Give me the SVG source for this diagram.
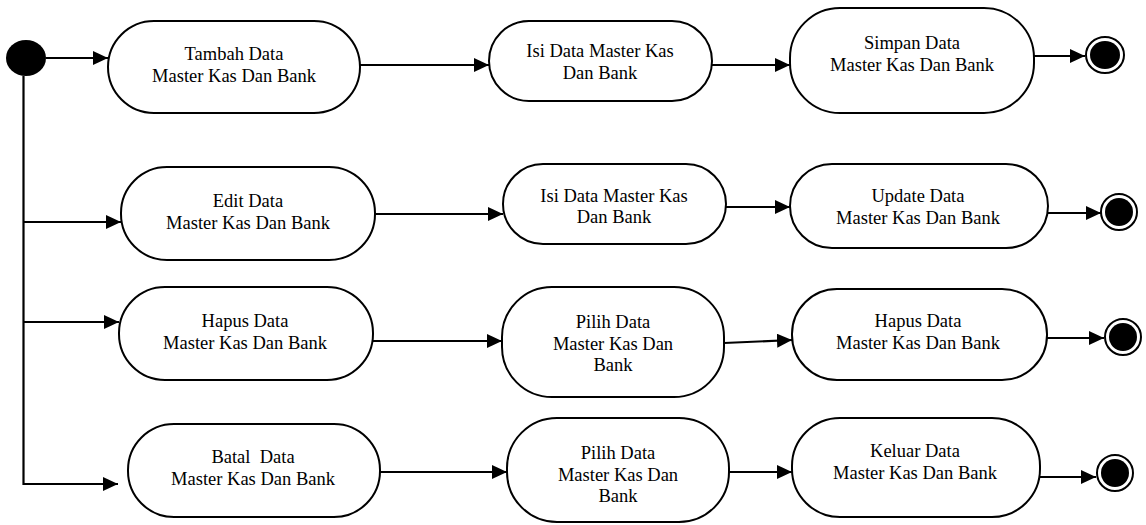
<svg xmlns="http://www.w3.org/2000/svg" width="1146" height="525" viewBox="0 0 1146 525">
<style>
.node rect{fill:#fff;stroke:#000;stroke-width:2}
.node text{font-size:18.5px;fill:#000;text-anchor:middle}
.conn path{fill:none;stroke:#000;stroke-width:2.2}
.end .o{fill:#fff;stroke:#000;stroke-width:2}
.end .i{fill:#000}
</style>
<defs>
<marker id="arr" markerUnits="userSpaceOnUse" markerWidth="15" markerHeight="14" refX="15" refY="7" orient="auto">
<path d="M0,0 L15,7 L0,14 z" fill="#000"/>
</marker>
</defs>
<g id="connectors" class="conn">
<path d="M46,58 H108" marker-end="url(#arr)"/>
<path d="M23.5,76 V484 H118" marker-end="url(#arr)"/>
<path d="M23.5,222 H121" marker-end="url(#arr)"/>
<path d="M23.5,322 H119" marker-end="url(#arr)"/>
<path d="M360,65 H489" marker-end="url(#arr)"/>
<path d="M712,65 H790" marker-end="url(#arr)"/>
<path d="M1034,56 H1085" marker-end="url(#arr)"/>
<path d="M375,214 H503" marker-end="url(#arr)"/>
<path d="M726,207 H790" marker-end="url(#arr)"/>
<path d="M1048,213 H1101" marker-end="url(#arr)"/>
<path d="M373,341 H502" marker-end="url(#arr)"/>
<path d="M724,343 L792,340" marker-end="url(#arr)"/>
<path d="M1047,338 H1104" marker-end="url(#arr)"/>
<path d="M380,472 H507" marker-end="url(#arr)"/>
<path d="M729,472 H792" marker-end="url(#arr)"/>
<path d="M1040,477 H1096" marker-end="url(#arr)"/>
</g>
<g id="start"><ellipse cx="26" cy="58" rx="20" ry="18" fill="#000"/></g>
<g font-family="'Liberation Serif', 'Times New Roman', serif">
<g id="tambah" class="node"><rect x="108" y="21" width="252" height="92" rx="46"/><text x="234" y="60">Tambah Data</text><text x="234" y="82">Master Kas Dan Bank</text></g>
<g id="isi1" class="node"><rect x="489" y="21" width="223" height="80" rx="40"/><text x="600" y="57">Isi Data Master Kas</text><text x="600" y="79">Dan Bank</text></g>
<g id="simpan" class="node"><rect x="790" y="8" width="244" height="105" rx="50"/><text x="912" y="49">Simpan Data</text><text x="912" y="71">Master Kas Dan Bank</text></g>
<g id="edit" class="node"><rect x="121" y="167" width="254" height="93" rx="46"/><text x="248" y="207">Edit Data</text><text x="248" y="229">Master Kas Dan Bank</text></g>
<g id="isi2" class="node"><rect x="503" y="164" width="223" height="80" rx="40"/><text x="614" y="202">Isi Data Master Kas</text><text x="614" y="223">Dan Bank</text></g>
<g id="update" class="node"><rect x="790" y="164" width="258" height="84" rx="42"/><text x="918" y="202">Update Data</text><text x="918" y="224">Master Kas Dan Bank</text></g>
<g id="hapus" class="node"><rect x="119" y="287" width="254" height="93" rx="46"/><text x="245" y="327">Hapus Data</text><text x="245" y="349">Master Kas Dan Bank</text></g>
<g id="pilih1" class="node"><rect x="502" y="287" width="222" height="110" rx="50"/><text x="613" y="328">Pilih Data</text><text x="613" y="350">Master Kas Dan</text><text x="613" y="371">Bank</text></g>
<g id="hapus2" class="node"><rect x="792" y="289" width="255" height="91" rx="45"/><text x="918" y="327">Hapus Data</text><text x="918" y="349">Master Kas Dan Bank</text></g>
<g id="batal" class="node"><rect x="128" y="424" width="252" height="93" rx="46"/><text x="253" y="463" xml:space="preserve">Batal  Data</text><text x="253" y="485">Master Kas Dan Bank</text></g>
<g id="pilih2" class="node"><rect x="507" y="418" width="222" height="104" rx="50"/><text x="618" y="459">Pilih Data</text><text x="618" y="481">Master Kas Dan</text><text x="618" y="502">Bank</text></g>
<g id="keluar" class="node"><rect x="792" y="418" width="248" height="99" rx="48"/><text x="915" y="457">Keluar Data</text><text x="915" y="479">Master Kas Dan Bank</text></g>
</g>
<g id="end1" class="end"><ellipse class="o" cx="1105" cy="55" rx="19" ry="18"/><ellipse class="i" cx="1105" cy="55" rx="15" ry="14"/></g>
<g id="end2" class="end"><ellipse class="o" cx="1119" cy="212" rx="18" ry="18"/><ellipse class="i" cx="1119" cy="212" rx="14" ry="14"/></g>
<g id="end3" class="end"><ellipse class="o" cx="1123" cy="337" rx="18" ry="18"/><ellipse class="i" cx="1123" cy="337" rx="14" ry="14"/></g>
<g id="end4" class="end"><ellipse class="o" cx="1115" cy="473" rx="18" ry="18"/><ellipse class="i" cx="1115" cy="473" rx="14" ry="14"/></g>
</svg>
